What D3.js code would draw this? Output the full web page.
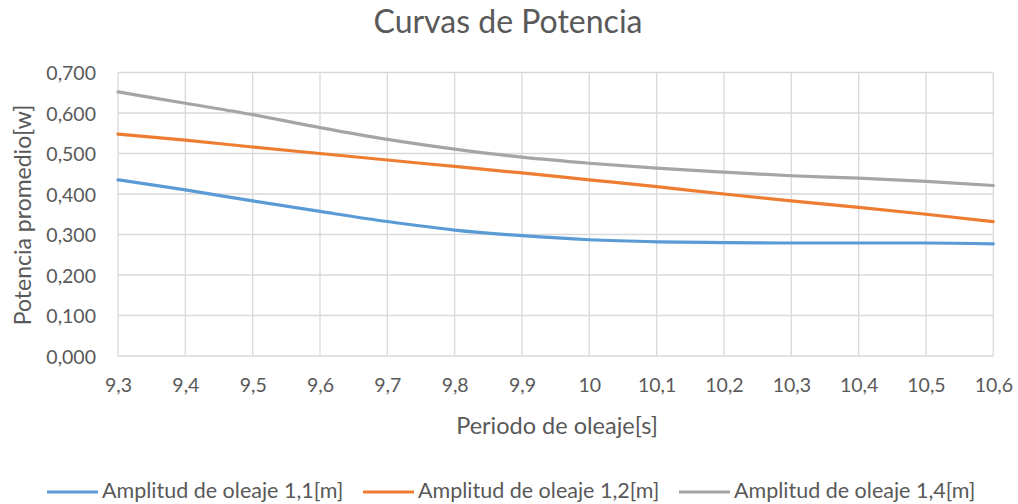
<!DOCTYPE html>
<html><head><meta charset="utf-8">
<script src="https://cdn.jsdelivr.net/npm/d3@7"></script>
<style>body{margin:0;background:#fff}svg{display:block}text{font-family:Lato,"Open Sans",sans-serif;fill:#595959}</style>
</head><body><svg id="c" width="1018" height="504"></svg>
<script>
const categories = ["9,3","9,4","9,5","9,6","9,7","9,8","9,9","10","10,1","10,2","10,3","10,4","10,5","10,6"];
const amp11 = [0.435,0.410,0.383,0.357,0.332,0.311,0.297,0.287,0.282,0.280,0.279,0.279,0.279,0.277];
const amp12 = [0.548,0.533,0.516,0.500,0.484,0.468,0.452,0.435,0.418,0.400,0.383,0.367,0.350,0.332];
const amp14 = [0.652,0.624,0.596,0.564,0.535,0.511,0.491,0.476,0.464,0.454,0.445,0.439,0.431,0.421];
const yTicks = [0,0.1,0.2,0.3,0.4,0.5,0.6,0.7];
const seriesNames = ["Amplitud de oleaje 1,1[m]","Amplitud de oleaje 1,2[m]","Amplitud de oleaje 1,4[m]"];
const colors = ["#5B9BD5","#ED7D31","#A5A5A5"];
const series = [amp11, amp12, amp14];

const svg = d3.select("#c");
const x = d3.scalePoint().domain(categories).range([118, 993.3]);
const y = d3.scaleLinear().domain([0, 0.7]).range([356, 72.5]);
const fmt = v => v.toFixed(3).replace(".", ",");

// gridlines
const g = svg.append("g");
g.selectAll("line.h").data(yTicks).join("line")
  .attr("x1", 118).attr("x2", 993.3).attr("y1", d => y(d)).attr("y2", d => y(d))
  .attr("stroke", "#D9D9D9").attr("stroke-width", 1.3);
g.selectAll("line.v").data(categories).join("line")
  .attr("x1", d => x(d)).attr("x2", d => x(d)).attr("y1", y(0.7)).attr("y2", y(0))
  .attr("stroke", "#D9D9D9").attr("stroke-width", 1.3);

// axes
const yAxis = d3.axisLeft(y).tickValues(yTicks).tickFormat(fmt).tickSize(0).tickPadding(22);
const ya = svg.append("g").attr("transform", "translate(118,0)").call(yAxis);
ya.select(".domain").remove();
ya.selectAll("text").style("font-size", "19.5px").attr("fill", "#595959").attr("dy", "0.36em");

const xAxis = d3.axisBottom(x).tickSize(0).tickPadding(0);
const xa = svg.append("g").attr("transform", "translate(0,356)").call(xAxis);
xa.select(".domain").remove();
xa.selectAll("text").style("font-size", "19.5px").attr("fill", "#595959").attr("y", 36).attr("dy", 0);

// lines
const line = d3.line().x((d, i) => x(categories[i])).y(d => y(d)).curve(d3.curveMonotoneX);
svg.selectAll("path.s").data(series).join("path")
  .attr("d", line).attr("fill", "none")
  .attr("stroke", (d, i) => colors[i]).attr("stroke-width", 3.2).attr("stroke-linecap", "round");

// titles
svg.append("text").attr("x", 508).attr("y", 33).attr("text-anchor", "middle").style("font-size", "32px").text("Curvas de Potencia");
svg.append("text").attr("x", 557).attr("y", 434).attr("text-anchor", "middle").style("font-size", "23.5px").text("Periodo de oleaje[s]");
svg.append("text").attr("transform", "translate(31,215) rotate(-90)").attr("text-anchor", "middle").style("font-size", "23px").text("Potencia promedio[w]");

// legend
const legX = [47, 363, 679];
const lg = svg.append("g").selectAll("g").data(seriesNames).join("g").attr("transform", (d, i) => `translate(${legX[i]},492)`);
lg.append("line").attr("x1", 0).attr("x2", 51).attr("y1", 0).attr("y2", 0).attr("stroke", (d, i) => colors[i]).attr("stroke-width", 3.2);
lg.append("text").attr("x", 55).attr("y", 6).style("font-size", "21.5px").text(d => d);
</script></body></html>
